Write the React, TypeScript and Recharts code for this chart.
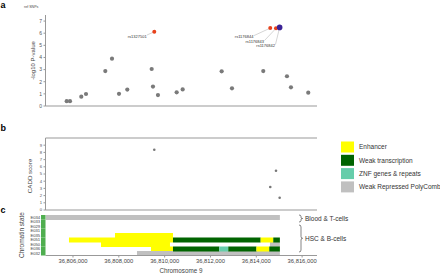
import React from 'react';
import { ScatterChart, Scatter, BarChart, Bar, Cell, XAxis, YAxis } from 'recharts';

const FONT = '"Liberation Sans", Arial, sans-serif';

// shared genomic axis (chr9)
const X_DOMAIN: [number, number] = [36804800, 36816650];
const X_TICKS = [36806000, 36808000, 36810000, 36812000, 36814000, 36816000];

// panel a: -log10 P of reference SNPs
const snpPos = [36805725, 36805869, 36806362, 36806567, 36807410, 36807702, 36808008, 36808370, 36809434, 36809491, 36809709, 36810525, 36810787, 36812489, 36812939, 36814305, 36815339, 36815513, 36816268];
const snpLogP = [0.4, 0.4, 0.77, 0.99, 2.88, 3.9, 1.0, 1.35, 3.05, 1.6, 0.9, 1.13, 1.37, 2.86, 1.46, 2.88, 2.45, 1.54, 1.1];

// lead SNPs (labelled)
const leadIds = ['rs1327501', 'rs1176844', 'rs1176843', 'rs1176842'];
const leadPos = [36809548, 36814610, 36814860, 36815020];
const leadLogP = [6.12, 6.42, 6.4, 6.48];
const indexSnp = 'rs1176842';

// panel b: CADD scores
const caddPos = [36809548, 36814860, 36814610, 36815020];
const caddScore = [8.37, 5.45, 3.2, 1.7];

// panel c: chromatin states
const stateNames = ['Enhancer', 'Weak transcription', 'ZNF genes & repeats', 'Weak Repressed PolyComb'];
const stateColors = ['#ffff00', '#006400', '#66cdaa', '#c0c0c0'];
const epigenomes = ['E034', 'E033', 'E029', 'E031', 'E035', 'E051', 'E050', 'E036', 'E032'];
const chromSegments: [string, number, number, string][] = [
  ['E034', 36804800, 36815030, 'Weak Repressed PolyComb'],
  ['E035', 36807833, 36810364, 'Enhancer'],
  ['E051', 36805825, 36810364, 'Enhancer'],
  ['E051', 36810364, 36814191, 'Weak transcription'],
  ['E051', 36814191, 36814741, 'Enhancer'],
  ['E051', 36814741, 36815030, 'Weak transcription'],
  ['E050', 36807222, 36810233, 'Enhancer'],
  ['E050', 36814597, 36815030, 'Weak Repressed PolyComb'],
  ['E036', 36809404, 36810364, 'Enhancer'],
  ['E036', 36810364, 36812385, 'Weak transcription'],
  ['E036', 36812385, 36812777, 'ZNF genes & repeats'],
  ['E036', 36812777, 36814008, 'Weak transcription'],
  ['E036', 36814008, 36814567, 'Enhancer'],
  ['E036', 36814567, 36815030, 'Weak transcription'],
  ['E032', 36808793, 36815030, 'Weak Repressed PolyComb'],
];

const snpData = snpPos.map((pos, i) => ({ pos, logp: snpLogP[i] }));
const leadData = leadIds.map((id, i) => ({ id, pos: leadPos[i], logp: leadLogP[i] }));
const caddData = caddPos.map((pos, i) => ({ pos, score: caddScore[i] }));

// stacked widths: transparent gap, coloured segment, gap, segment...
const stateRows: any[] = epigenomes.map((state) => {
  const segs = chromSegments.filter((s) => s[0] === state).sort((a, b) => a[1] - b[1]);
  const row: any = { state };
  let cursor = 0;
  let k = 0;
  segs.forEach(([, start, end, kind]) => {
    row[`k${k}`] = start - cursor;
    row[`c${k}`] = 'none';
    k++;
    row[`k${k}`] = end - start;
    row[`c${k}`] = stateColors[stateNames.indexOf(kind)];
    k++;
    cursor = end;
  });
  row.n = k;
  return row;
});
const nKeys = Math.max(...stateRows.map((r) => r.n));
stateRows.forEach((r) => {
  for (let i = 0; i < nKeys; i++) {
    if (r[`k${i}`] === undefined) {
      r[`k${i}`] = 0;
      r[`c${i}`] = 'none';
    }
  }
});

// label placement for lead SNPs: [textEndDx, baselineDy, lineStartDx, lineStartDy]
const LABEL_OFFSET: Record<string, number[]> = {
  rs1327501: [-7.6, 5.8, -7.3, 3.3],
  rs1176844: [-16.8, 10, -16.3, 7.5],
  rs1176843: [-12, 14.3, -11.5, 12.2],
  rs1176842: [-4.7, 20, -4.2, 17.2],
};

const AXIS = '#999';
const TICK_TEXT = '#555';

const dot = (r: number, fill: string) => (p: any) => <circle cx={p.cx} cy={p.cy} r={r} fill={fill} />;

const leadShape = (p: any) => {
  const id = p.payload.id;
  const o = LABEL_OFFSET[id];
  const isIndex = id === indexSnp;
  return (
    <g>
      <line x1={p.cx + o[2]} y1={p.cy + o[3]} x2={p.cx} y2={p.cy} stroke="#aaa" strokeWidth={0.5} />
      <text x={p.cx + o[0]} y={p.cy + o[1]} textAnchor="end" fontSize={4} fill="#333" fontFamily={FONT}>{id}</text>
      <circle cx={p.cx} cy={p.cy} r={isIndex ? 2.8 : 2} fill={isIndex ? '#3c2396' : '#e8421c'} />
    </g>
  );
};

const StateTick = (props: any) => {
  const { x, y, payload } = props;
  return (
    <g>
      <rect x={x - 4.5} y={y - 2.25} width={4.5} height={4.5} fill="#4fae4f" />
      <text x={x - 5.3} y={y + 1.5} textAnchor="end" fontSize={4.2} fill="#444" fontFamily={FONT}>{payload.value}</text>
    </g>
  );
};

const fmt = (v: number) => v.toLocaleString('en-US');

export default function App() {
  return (
    <div style={{ position: 'absolute', left: 0, top: 0, width: 440, height: 274, background: '#fff', fontFamily: FONT, overflow: 'hidden' }}>
      <div style={{ position: 'absolute', left: 0, top: 0 }}>
        <ScatterChart width={440} height={115} margin={{ top: 15, right: 123, bottom: 6, left: 0 }}>
          <XAxis type="number" dataKey="pos" domain={X_DOMAIN} allowDataOverflow ticks={X_TICKS} interval={0}
            tick={false} tickSize={2} height={3} stroke={AXIS} />
          <YAxis type="number" dataKey="logp" domain={[0, 7.5]} ticks={[0, 1, 2, 3, 4, 5, 6, 7]} interval={0}
            width={45.5} tickSize={2} tickMargin={1.5} tick={{ fontSize: 5, fill: TICK_TEXT }} stroke={AXIS} />
          <Scatter data={snpData} shape={dot(2.1, '#7a7a7a')} isAnimationActive={false} />
          <Scatter data={leadData} shape={leadShape} isAnimationActive={false} />
        </ScatterChart>
      </div>

      <div style={{ position: 'absolute', left: 0, top: 130 }}>
        <ScatterChart width={440} height={90} margin={{ top: 5, right: 123, bottom: 7, left: 0 }}>
          <XAxis xAxisId="top" orientation="top" type="number" dataKey="pos" domain={X_DOMAIN} allowDataOverflow
            ticks={X_TICKS} interval={0} tick={false} tickSize={2} height={3} stroke={AXIS} />
          <XAxis xAxisId="bottom" orientation="bottom" type="number" dataKey="pos" domain={X_DOMAIN} allowDataOverflow
            ticks={X_TICKS} interval={0} tick={false} tickSize={2} height={3} stroke={AXIS} />
          <YAxis type="number" dataKey="score" domain={[0, 10]} ticks={[0, 1, 2, 3, 4, 5, 6, 7, 8, 9]} interval={0}
            width={45.5} tickSize={2} tickMargin={1.5} tick={{ fontSize: 4.2, fill: TICK_TEXT }} stroke={AXIS} />
          <Scatter xAxisId="top" data={caddData} shape={dot(1.3, '#777')} isAnimationActive={false} />
        </ScatterChart>
      </div>

      <div style={{ position: 'absolute', left: 0, top: 200 }}>
        <BarChart width={440} height={74} layout="vertical" data={stateRows} barCategoryGap={0}
          margin={{ top: 10, right: 123, bottom: 6.5, left: 0 }}>
          <XAxis type="number" domain={X_DOMAIN} allowDataOverflow ticks={X_TICKS} interval={0} tickFormatter={fmt}
            tickSize={2} tickMargin={1} height={12} stroke={AXIS} tick={{ fontSize: 5.8, fill: '#444' }} />
          <YAxis type="category" dataKey="state" width={45.5} padding={{ top: 5, bottom: 0 }} axisLine={false}
            tickLine={false} tickSize={0} tickMargin={0} interval={0} tick={<StateTick />} />
          <YAxis yAxisId="right" orientation="right" type="category" dataKey="state" width={0} tick={false}
            tickLine={false} stroke={AXIS} padding={{ top: 5, bottom: 0 }} />
          {Array.from({ length: nKeys }, (_, i) => (
            <Bar key={i} dataKey={`k${i}`} stackId="chrom" isAnimationActive={false}>
              {stateRows.map((r, j) => (
                <Cell key={j} fill={r[`c${i}`]} />
              ))}
            </Bar>
          ))}
        </BarChart>
      </div>

      <svg width={440} height={274} style={{ position: 'absolute', left: 0, top: 0, pointerEvents: 'none' }} fontFamily={FONT}>
        <text x={0.5} y={8} fontSize={9} fontWeight="bold" fill="#000">a</text>
        <text x={0.5} y={131} fontSize={9} fontWeight="bold" fill="#000">b</text>
        <text x={0.5} y={212.5} fontSize={9} fontWeight="bold" fill="#000">c</text>
        <text x={24} y={8} fontSize={3.6} fill="#444">ref SNPs</text>

        <text transform="translate(34.5,60.5) rotate(-90)" textAnchor="middle" fontSize={6} fill="#444">-log10 P-value</text>
        <text transform="translate(32,176) rotate(-90)" textAnchor="middle" fontSize={6.2} fill="#444">CADD score</text>
        <text transform="translate(24,235) rotate(-90)" textAnchor="middle" fontSize={6.5} fill="#444">Chromatin state</text>
        <text x={181} y={273} textAnchor="middle" fontSize={6.3} fill="#444">Chromosome 9</text>

        {stateNames.map((name, i) => (
          <g key={name}>
            <rect x={341} y={141.5 + i * 13.3} width={13} height={11} fill={stateColors[i]} />
            <text x={359} y={149.2 + i * 13.3} fontSize={6.5} fill="#333">{name}</text>
          </g>
        ))}

        <path d="M299 215 Q301 215 301 216.5 L301 217.3 Q301 218.5 302.6 218.5 Q301 218.5 301 219.7 L301 220.5 Q301 222 299 222"
          fill="none" stroke="#333" strokeWidth={0.6} />
        <text x={305} y={220.8} fontSize={6.5} fill="#333">Blood &amp; T-cells</text>
        <path d="M299 225 Q301 225 301 227 L301 236.5 Q301 238.3 302.6 238.3 Q301 238.3 301 240 L301 250 Q301 252 299 252"
          fill="none" stroke="#333" strokeWidth={0.6} />
        <text x={305} y={240.5} fontSize={6.5} fill="#333">HSC &amp; B-cells</text>
      </svg>
    </div>
  );
}
